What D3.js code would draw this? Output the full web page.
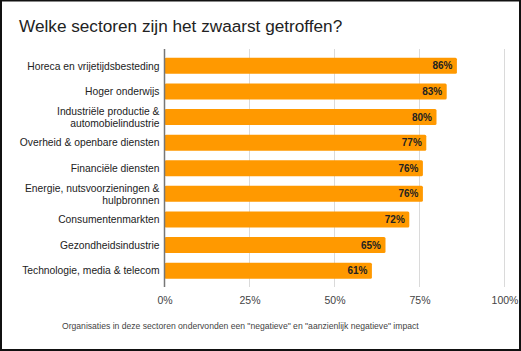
<!DOCTYPE html>
<html>
<head>
    <meta charset="utf-8">
    <script src="https://cdn.jsdelivr.net/npm/d3@7"></script>
    <style>
        body {
            margin: 0;
            background-color: white;
            font-family: "Liberation Sans", Arial, sans-serif;
        }

        .grid line {
            stroke: #dadada;
        }

        .tick text {
            fill: #444;
        }
    </style>
</head>
<body>
    <div id="chart"></div>
    <script>
        const w = 521
        const h = 351

        // data
        const sectors = [
            ['Horeca en vrijetijdsbesteding'],
            ['Hoger onderwijs'],
            ['Industriële productie &', 'automobielindustrie'],
            ['Overheid & openbare diensten'],
            ['Financiële diensten'],
            ['Energie, nutsvoorzieningen &', 'hulpbronnen'],
            ['Consumentenmarkten'],
            ['Gezondheidsindustrie'],
            ['Technologie, media & telecom']
        ]
        const impact = [86, 83, 80, 77, 76, 76, 72, 65, 61]
        const xTicks = [0, 25, 50, 75, 100]

        const title = 'Welke sectoren zijn het zwaarst getroffen?'
        const footer = 'Organisaties in deze sectoren ondervonden een "negatieve" en "aanzienlijk negatieve" impact'

        const plotLeft = 164.5
        const plotRight = 504.5
        const plotTop = 53
        const plotBottom = 283.5

        const svg = d3.select('#chart')
            .append('svg')
            .attr('width', w)
            .attr('height', h)

        svg.append('rect')
            .attr('x', 1)
            .attr('y', 0.5)
            .attr('width', w - 2)
            .attr('height', h - 1.5)
            .attr('fill', 'white')
            .attr('stroke', '#111')
            .attr('stroke-width', 2)

        svg.append('text')
            .attr('x', 19)
            .attr('y', 32)
            .attr('font-size', 17.2)
            .attr('fill', '#222')
            .text(title)

        const x = d3.scaleLinear()
            .domain([0, 100])
            .range([plotLeft, plotRight])

        const y = d3.scaleBand()
            .domain(d3.range(sectors.length))
            .range([plotTop, plotBottom])
            .paddingInner(0.375)
            .paddingOuter(0.19)

        // gridlines
        svg.append('g')
            .attr('class', 'grid')
            .selectAll('line')
            .data(xTicks.slice(1))
            .enter()
            .append('line')
            .attr('x1', d => x(d))
            .attr('x2', d => x(d))
            .attr('y1', 49)
            .attr('y2', 287)

        const xAxis = svg.append('g')
            .attr('transform', `translate(0, ${287})`)
            .call(d3.axisBottom(x)
                .tickValues(xTicks)
                .tickFormat(d => d + '%')
                .tickSize(0)
                .tickPadding(10))
        xAxis.select('.domain').remove()
        xAxis.selectAll('text')
            .attr('font-size', 10.5)
            .attr('font-family', '"Liberation Sans", Arial, sans-serif')

        svg.selectAll('.bar')
            .data(impact)
            .enter()
            .append('rect')
            .attr('class', 'bar')
            .attr('x', x(0))
            .attr('y', (d, i) => y(i))
            .attr('width', d => x(d) - x(0))
            .attr('height', y.bandwidth())
            .attr('rx', 1.5)
            .attr('fill', '#ff9900')

        svg.selectAll('.val')
            .data(impact)
            .enter()
            .append('text')
            .attr('class', 'val')
            .attr('x', d => x(d) - 4.5)
            .attr('y', (d, i) => y(i) + y.bandwidth() / 2)
            .attr('dy', '0.36em')
            .attr('text-anchor', 'end')
            .attr('font-size', 10)
            .attr('font-weight', 'bold')
            .attr('fill', '#222')
            .text(d => d + '%')

        // zero line
        svg.append('line')
            .attr('x1', x(0))
            .attr('x2', x(0))
            .attr('y1', 49)
            .attr('y2', 287)
            .attr('stroke', '#777')
            .attr('stroke-width', 1.5)

        const labels = svg.selectAll('.cat')
            .data(sectors)
            .enter()
            .append('text')
            .attr('class', 'cat')
            .attr('text-anchor', 'end')
            .attr('font-size', 10.3)
            .attr('fill', '#222')
            .attr('transform', (d, i) => `translate(${plotLeft - 5}, ${y(i) + y.bandwidth() / 2})`)
        labels.selectAll('tspan')
            .data(d => d.map((t, j) => ({ t, j, n: d.length })))
            .enter()
            .append('tspan')
            .attr('x', 0)
            .attr('y', d => (d.j - (d.n - 1) / 2) * 12)
            .attr('dy', '0.36em')
            .text(d => d.t)

        svg.append('text')
            .attr('x', 62)
            .attr('y', 329)
            .attr('font-size', 8.6)
            .attr('fill', '#444')
            .text(footer)
    </script>
</body>
</html>
